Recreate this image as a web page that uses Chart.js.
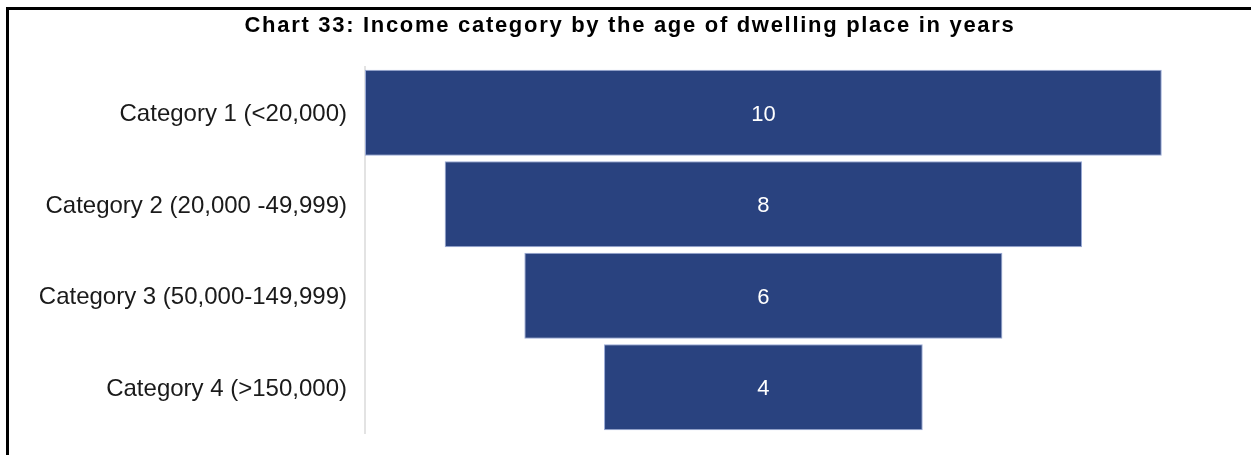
<!DOCTYPE html>
<html>
<head>
<meta charset="utf-8">
<script src="https://cdn.jsdelivr.net/npm/chart.js@4.4.1/dist/chart.umd.min.js"></script>
<style>
    html, body { margin: 0; padding: 0; background: #fff; }
    #wrap { position: relative; width: 1251px; height: 455px; overflow: hidden; }
    #frame {
        position: absolute; left: 6px; top: 7px;
        width: 1300px; height: 500px;
        border: 3px solid #000; box-sizing: border-box;
    }
    #funnel { position: absolute; left: 0; top: 0; }
</style>
</head>
<body>
<div id="wrap">
    <div id="frame"></div>
    <canvas id="funnel" width="1251" height="455"></canvas>
</div>
<script>
    // -----------------------------
    // DATA
    // -----------------------------
    const categories = [
        "Category 1 (<20,000)",
        "Category 2 (20,000 -49,999)",
        "Category 3 (50,000-149,999)",
        "Category 4 (>150,000)"
    ];
    const values = [10, 8, 6, 4];

    const chartTitle = "Chart 33: Income category by the age of dwelling place in years";

    // funnel = floating bars centred on zero
    const spans = values.map(v => [-v / 2, v / 2]);

    const FONT = "'Liberation Sans', Arial, sans-serif";

    // -----------------------------
    // TITLE (spaced out a little, so drawn by hand)
    // -----------------------------
    const spacedTitle = {
        id: "spacedTitle",
        afterDraw(chart) {
            const ctx = chart.ctx;
            ctx.save();
            ctx.fillStyle = "#000";
            ctx.font = "bold 22px " + FONT;
            ctx.letterSpacing = "1.7px";
            ctx.textAlign = "center";
            ctx.textBaseline = "middle";
            ctx.fillText(chartTitle, 630, 26);
            ctx.restore();
        }
    };

    // -----------------------------
    // VALUE LABELS INSIDE BARS
    // -----------------------------
    const barLabels = {
        id: "barLabels",
        afterDatasetsDraw(chart) {
            const ctx = chart.ctx;
            const meta = chart.getDatasetMeta(0);
            ctx.save();
            ctx.fillStyle = "#ffffff";
            ctx.font = "22px " + FONT;
            ctx.textAlign = "center";
            ctx.textBaseline = "middle";
            meta.data.forEach((bar, i) => {
                const cx = (bar.x + bar.base) / 2;
                ctx.fillText(String(values[i]), cx, bar.y + 2);
            });
            ctx.restore();
        }
    };

    const ctx = document.getElementById("funnel").getContext("2d");
    new Chart(ctx, {
        type: "bar",
        data: {
            labels: categories,
            datasets: [{
                data: spans,
                backgroundColor: "#29427f",
                borderColor: "#9aaad6",
                borderWidth: 1,
                borderSkipped: false,
                barPercentage: 0.94,
                categoryPercentage: 1
            }]
        },
        options: {
            indexAxis: "y",
            responsive: false,
            animation: false,
            layout: {
                padding: { left: 7, right: 0, top: 67, bottom: 22 }
            },
            plugins: {
                legend: { display: false },
                tooltip: { enabled: false },
                title: { display: false }
            },
            scales: {
                x: {
                    display: false,
                    min: -5,
                    max: 6.12
                },
                y: {
                    afterFit(scale) {
                        scale.width = 358;
                        // labels sit inside their rows, no extra room needed
                        scale.paddingTop = 0;
                        scale.paddingBottom = 0;
                    },
                    grid: { display: false, drawTicks: false },
                    border: { display: true, color: "#e3e3e3", width: 2 },
                    ticks: {
                        color: "#1a1a1a",
                        padding: 18,
                        labelOffset: 2,
                        font: { family: FONT, size: 24 }
                    }
                }
            }
        },
        plugins: [barLabels, spacedTitle]
    });
</script>
</body>
</html>
